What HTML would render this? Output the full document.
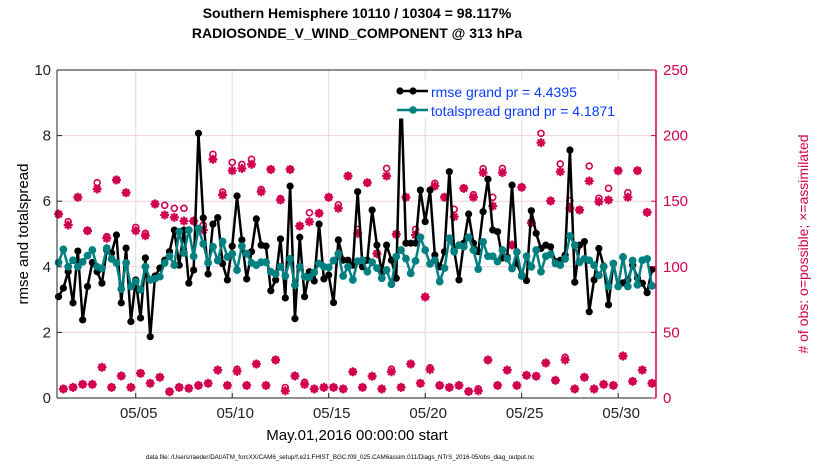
<!DOCTYPE html>
<html><head><meta charset="utf-8"><style>
html,body{margin:0;padding:0;background:#fff;}
svg{display:block;font-family:"Liberation Sans",sans-serif;}
</style></head><body>
<svg id="chart" width="830" height="470" viewBox="0 0 830 470">
<text x="357" y="18" text-anchor="middle" font-size="14" font-weight="bold">Southern Hemisphere 10110 / 10304 = 98.117%</text>
<text x="357" y="38" text-anchor="middle" font-size="14" font-weight="bold">RADIOSONDE_V_WIND_COMPONENT @ 313 hPa</text>
<g id="grid"></g>
<g id="obs"></g>
<g id="lines"></g>
<g id="axes"></g>
<text transform="translate(28,234) rotate(-90)" text-anchor="middle" font-size="15">rmse and totalspread</text>
<text transform="translate(808,244) rotate(-90)" text-anchor="middle" font-size="14" fill="#d1004f"># of obs: o=possible; ×=assimilated</text>
<text x="357" y="440" text-anchor="middle" font-size="15">May.01,2016 00:00:00 start</text>
<text x="340" y="459" text-anchor="middle" font-size="6.2">data file: /Users/raeder/DAI/ATM_forcXX/CAM6_setup/f.e21.FHIST_BGC.f09_025.CAM6assim.011/Diags_NTrS_2016-05/obs_diag_output.nc</text>
<g>
<rect x="392" y="80" width="254" height="38" fill="#fff" stroke="#fff"/>
<g>
<line x1="397" y1="91" x2="428" y2="91" stroke="#000" stroke-width="2.5"/>
<circle cx="400" cy="91" r="3.6" fill="#000"/><circle cx="413" cy="91" r="3.6" fill="#000"/>
<text x="431" y="97" font-size="14" fill="#0a3cff">rmse grand pr = 4.4395</text></g>
<g>
<line x1="397" y1="110" x2="428" y2="110" stroke="#008080" stroke-width="2.5"/>
<circle cx="413" cy="110" r="3.8" fill="#008080"/>
<text x="431" y="116" font-size="14" fill="#0a3cff">totalspread grand pr = 4.1871</text></g>
</g>
</svg>
<script>
const rmse = [3.09,3.35,3.85,2.9,4.48,2.38,3.4,4.13,3.85,3.5,4.51,4.42,4.97,2.9,4.57,2.33,3.6,2.44,4.27,1.87,3.72,3.96,4.2,4.46,5.12,4.05,5.12,3.5,3.9,8.07,5.49,3.78,
5.3,5.5,4.1,3.6,4.63,6.16,4.82,3.63,4.46,5.46,4.66,4.63,3.27,3.6,4.85,3.05,6.46,2.42,4.9,3.09,3.85,3.57,5.3,3.63,3.75,2.91,4.82,4.2,4.2,4.05,6.29,
4.0,4.2,5.73,4.66,3.85,4.66,4.2,3.65,9.37,4.72,4.72,4.72,6.34,5.38,6.34,4.36,4.0,4.46,6.9,4.51,3.6,4.72,5.61,4.72,4.46,5.68,6.67,5.12,5.07,4.27,4.3,
6.49,4.1,3.75,3.58,5.71,5.02,4.56,4.66,4.61,4.16,4.2,4.36,7.56,3.53,4.66,4.77,2.63,3.6,4.56,4.02,2.84,4.1,3.4,3.51,3.6,4.05,3.66,3.5,3.21,3.92];
const spread = [4.13,4.53,4.0,4.2,4.0,4.15,4.34,4.51,4.0,3.95,4.57,4.24,4.12,3.32,4.12,3.4,3.55,3.3,4.0,3.6,3.64,3.7,4.12,4.32,4.05,5.07,4.42,5.12,4.32,5.17,4.7,4.12,
4.61,4.19,4.77,4.3,4.4,3.9,4.63,4.4,4.12,4.05,4.14,4.14,3.85,3.78,4.0,3.72,4.24,3.44,4.0,3.7,3.68,3.83,4.1,4.0,3.98,4.19,4.4,3.72,4.0,3.6,4.17,
4.2,3.85,4.14,3.96,3.65,3.9,3.47,4.31,4.51,4.25,3.8,4.18,4.9,4.51,4.09,4.2,3.55,3.96,4.87,4.46,4.66,4.61,4.9,4.51,3.93,4.76,4.32,4.32,4.16,4.51,4.25,
3.95,4.45,3.72,4.32,4.0,4.51,3.85,4.32,4.38,4.1,4.05,4.24,4.94,4.66,4.14,4.24,4.2,4.05,3.74,4.0,3.4,4.1,3.4,4.3,3.4,4.19,3.45,4.2,4.24,3.42];
const bigAssim = [140.2,131.8,153,127.5,159.3,121.7,166.2,156.5,127.5,123.7,147.9,139.5,137.7,134.9,134.9,128,181.9,154.7,173.3,175,178.1,157.2,174.2,150.9,174.2,131.1,134.4,140.8,153,144.6,169.2,
125.5,164.1,110,169.2,124.8,153,124.2,77,161.6,153,138.2,159.8,153,171.8,146.3,171.8,116.6,160.6,133.6,194.6,150.2,172.5,144.6,143.3,165.4,149.6,150.9,173.3,153,173.3,141.5];
const bigPoss = [140.2,134.4,153,127.5,164.1,123,166.2,156.5,130,125.5,147.9,146.9,144.6,144.6,134.9,131.8,185.7,157,179.6,178,181.9,159,174.2,152,174.2,131.1,141.2,140.8,153,147.2,169.2,
128.5,164.1,110,175,124.8,153,128.5,77,163.6,153,143.8,159.8,155,174.8,153,175,116.6,160.6,133.6,201.7,150.2,178.4,150.4,143.3,176.8,152.2,159.8,173.3,156.5,173.3,141.5];
const smallAssim = [6.9,8.1,10.4,10.4,23.4,8.1,16.8,8.1,18.8,11.2,15.8,4.8,8.1,7.4,9.6,11.2,21.3,9.6,20.3,9.6,25.9,9.6,29,5.5,16.8,10.4,6.9,8.1,8.1,6.9,20,
8.1,16.6,6.9,20,8.1,25.9,11.2,21.7,9.6,8.1,9.6,5,5.5,29,9.6,21.3,9.6,17.3,16.6,26.7,13.5,29,6.9,15.8,6.9,10.4,9.6,32,12.7,21.3,11.2];
const smallPoss = [6.9,8.1,10.4,10.4,23.4,8.1,16.8,8.1,18.8,11.2,15.8,4.8,8.1,7.4,9.6,11.2,21.3,9.6,22,9.6,25.9,9.6,29,8,16.8,12,6.9,8.1,8.1,6.9,20,
8.1,16.6,6.9,22,8.1,25.9,11.2,23,9.6,8.1,9.6,5,7,29,9.6,21.3,9.6,17.3,16.6,26.7,13.5,31,6.9,15.8,6.9,10.4,9.6,32,12.7,21.3,11.2];
const xTickDays = [4,9,14,19,24,29];
const xTickLabels = ["05/05","05/10","05/15","05/20","05/25","05/30"];
const yTicks = [0,2,4,6,8,10];
const y2Ticks = [0,50,100,150,200,250];
const stepDays = 0.25;

const PL=57, PR=656, PT=70, PB=398;
const D0=-0.08, D1=30.96;
const xS = d => PL + (d-D0)/(D1-D0)*(PR-PL);
const yS = v => PB - v/10*(PB-PT);
const y2S = v => PB - v/250*(PB-PT);
const NS="http://www.w3.org/2000/svg";
function mk(tag, attrs, parent){const e=document.createElementNS(NS,tag);for(const k in attrs)e.setAttribute(k,attrs[k]);parent.appendChild(e);return e;}
const grid=document.getElementById('grid'), axes=document.getElementById('axes'), lines=document.getElementById('lines'), obs=document.getElementById('obs');
mk('rect',{x:PL,y:PT,width:PR-PL,height:PB-PT,fill:'#fff'},grid);
yTicks.forEach(v=>{ if(v>0&&v<10){const l=mk('line',{x1:PL,x2:PR,y1:yS(v),y2:yS(v),stroke:'#f0d0dc','stroke-width':1},grid);

}});
xTickDays.forEach(d=>{const l=mk('line',{x1:xS(d),x2:xS(d),y1:PT,y2:PB,stroke:'#dcdcdc','stroke-width':1},grid);

});
mk('line',{x1:PL,x2:PR,y1:PT,y2:PT,stroke:'#222','stroke-width':1},axes);
mk('line',{x1:PL,x2:PR,y1:PB,y2:PB,stroke:'#222','stroke-width':1},axes);
mk('line',{x1:PL,x2:PL,y1:PT,y2:PB,stroke:'#222','stroke-width':1},axes);
mk('line',{x1:PR,x2:PR,y1:PT,y2:PB,stroke:'#d1004f','stroke-width':1.5},axes);
yTicks.forEach(v=>{mk('line',{x1:PL,x2:PL+5,y1:yS(v),y2:yS(v),stroke:'#222'},axes);
const t=mk('text',{x:PL-6,y:yS(v)+5,'text-anchor':'end','font-size':15,fill:'#222'},axes);t.textContent=v;

});
y2Ticks.forEach(v=>{mk('line',{x1:PR-5,x2:PR,y1:y2S(v),y2:y2S(v),stroke:'#d1004f'},axes);
const t=mk('text',{x:PR+7,y:y2S(v)+5,'font-size':15,fill:'#d1004f'},axes);t.textContent=v;

});
xTickDays.forEach((d,i)=>{mk('line',{x1:xS(d),x2:xS(d),y1:PB,y2:PB-5,stroke:'#222'},axes);
const t=mk('text',{x:xS(d)+3,y:PB+20,'text-anchor':'middle','font-size':15,fill:'#222'},axes);t.textContent=xTickLabels[i];

});
const OC='#d1004f';
function star(x,y,g){for(let a=0;a<4;a++){const an=a*Math.PI/4;mk('line',{x1:x-4.5*Math.cos(an),y1:y-4.5*Math.sin(an),x2:x+4.5*Math.cos(an),y2:y+4.5*Math.sin(an),stroke:OC,'stroke-width':2.2},g);}
mk('circle',{cx:x,cy:y,r:2.8,fill:OC},g);}
function ring(x,y,g){mk('circle',{cx:x,cy:y,r:3,fill:'none',stroke:OC,'stroke-width':1.6},g);}
function drawObs(assim,poss,offset,name){assim.forEach((v,i)=>{const d=(offset+2*i)*stepDays;if(d>D1)return;
const g=mk('g',{},obs);


ring(xS(d),y2S(poss[i]),g);star(xS(d),y2S(v),g);});}
drawObs(bigAssim,bigPoss,0,'obs-marker-00z-12z');
drawObs(smallAssim,smallPoss,1,'obs-marker-06z-18z');
function drawLine(vals,color,name,r){const pts=vals.map((v,i)=>xS(i*stepDays)+','+yS(v)).join(' ');
const p=mk('polyline',{points:pts,fill:'none',stroke:color,'stroke-width':2.5,'stroke-linejoin':'round'},lines);


vals.forEach((v,i)=>{const c=mk('circle',{cx:xS(i*stepDays),cy:yS(v),r:r,fill:color},lines);

});}
drawLine(rmse,'#000','rmse',3.6);
drawLine(spread,'#008080','totalspread',3.9);
</script>
</body></html>
